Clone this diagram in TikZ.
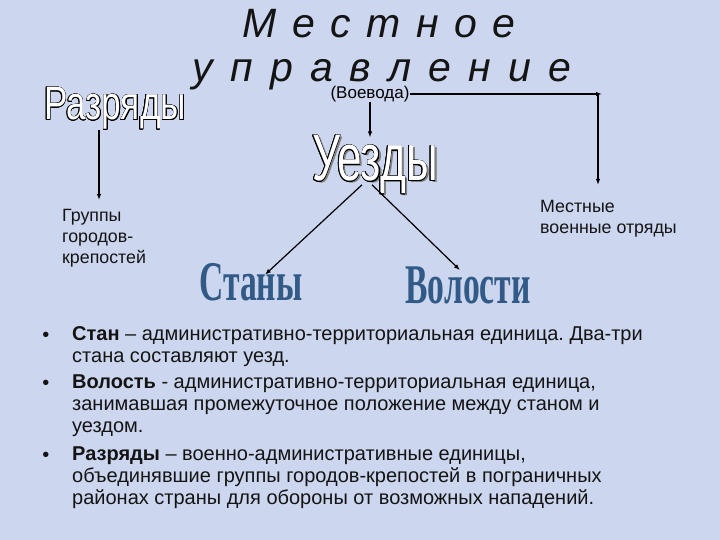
\documentclass[tikz,border=0pt]{standalone}
\usepackage{fontspec}
\setmainfont{Liberation Sans}
\newfontfamily\titlefont{Liberation Sans}[LetterSpace=10]
\newfontfamily\titlewidefont{Liberation Sans}[LetterSpace=14]
\newfontfamily\outlinefont{Liberation Sans}[FakeStretch=0.75]
\newfontfamily\uezdfont{Liberation Sans}[FakeStretch=0.67]
\newfontfamily\artfont{Liberation Serif}[FakeStretch=0.6]
\usepackage{contour}
\contourlength{0.45pt}
\contournumber{16}
\usetikzlibrary{
  arrows.meta,
  positioning
}
\frenchspacing
\definecolor{slidebg}{RGB}{204, 214, 238}
\definecolor{artcolor}{RGB}{50, 90, 134}
\definecolor{shadowcolor}{RGB}{125, 125, 125}
\definecolor{labelcolor}{RGB}{20, 20, 20}
\newcommand{\outlinetext}[1]{\contour{black}{\textcolor{white}{#1}}}
\tikzset{
titletext/.style={
  font=\titlefont\itshape\fontsize{41}{41}\selectfont,
  text=labelcolor,
  inner sep=0pt,
  anchor=base
},
smalltext/.style={
  font=\fontsize{17.8}{21}\selectfont,
  text=labelcolor,
  align=left,
  inner sep=0pt,
  anchor=north west
},
outlineword/.style={
  font=\outlinefont\fontsize{47}{47}\selectfont,
  inner sep=0pt,
  anchor=base
},
artword/.style={
  font=\artfont\bfseries\fontsize{56}{56}\selectfont,
  text=artcolor,
  inner sep=0pt,
  anchor=base
},
itemtext/.style={
  font=\fontsize{20}{22}\selectfont,
  text=labelcolor,
  align=left,
  inner sep=0pt,
  anchor=north west
},
bulletmark/.style={
  font=\fontsize{20}{22}\selectfont,
  text=labelcolor,
  inner sep=0pt,
  anchor=base
},
arrow/.style={
  -{Latex[length=6pt,width=4.5pt]},
  line width=1.2pt,
  draw=black
}
}

\begin{document}
\begin{tikzpicture}[x=1pt,y=-1pt]
  \useasboundingbox (0,0) rectangle (720,540);
  \fill[slidebg] (0,0) rectangle (720,540);

  % title
  \node[titletext] (titletop) at (379,38) {М е с т н о е};
  \node[titletext, font=\titlewidefont\itshape\fontsize{41}{41}\selectfont]
    (titlebottom) at (382,82) {у п р а в л е н и е};
  \node[font=\fontsize{17}{17}\selectfont, inner sep=0pt] (voevoda) at (370,94) {(Воевода)};

  % outlined words
  \node[outlineword] (razryady) at (115,120) {\outlinetext{Разряды}};
  \node[outlineword, font=\uezdfont\fontsize{66}{66}\selectfont, text=shadowcolor]
    (uezdyshadow) at (377.5,183) {Уезды};
  \node[outlineword, font=\uezdfont\fontsize{66}{66}\selectfont]
    (uezdy) at (375,181) {\outlinetext{Уезды}};

  \node[artword] (stany) at (251,300) {Станы};
  \node[artword] (volosti) at (468,303) {Волости};

  \node[smalltext] (gruppy) at (62,209) {Группы\\городов-\\крепостей};
  \node[smalltext] (mestnye) at (540,200) {Местные\\военные отряды};

  % connectors
  \coordinate (corner) at (600,94);
  \draw[arrow] ([xshift=-16pt]razryady.south) -- ([xshift=-16pt,yshift=9pt]razryady.south |- gruppy.north);
  \draw[arrow] (voevoda.south) -- ([yshift=-2pt]voevoda.south |- uezdy.north);
  \draw[arrow] (voevoda.east) -- ([xshift=2pt]corner);
  \draw[arrow] ([xshift=-2pt]corner) -- ([xshift=-2pt,yshift=15pt]corner |- mestnye.north);
  \draw[arrow] ([xshift=-13pt,yshift=10pt]uezdy.south) -- ([xshift=14pt,yshift=-12pt]stany.north);
  \draw[arrow] ([xshift=-3pt,yshift=10pt]uezdy.south) -- ([xshift=-8pt,yshift=-4pt]volosti.north);

  % bullet list
  \node[itemtext] (item1) at (72,326.5) {\textbf{Стан} – административно-территориальная единица. Два-три\\стана составляют уезд.};
  \node[itemtext] (item2) at (72,374.5) {\textbf{Волость} - административно-территориальная единица,\\занимавшая промежуточное положение между станом и\\уездом.};
  \node[itemtext] (item3) at (72,446.5) {\textbf{Разряды} – военно-административные единицы,\\объединявшие группы городов-крепостей в пограничных\\районах страны для обороны от возможных нападений.};
  \node[bulletmark] (bullet1) at (46,341) {•};
  \node[bulletmark] (bullet2) at (46,389) {•};
  \node[bulletmark] (bullet3) at (46,461) {•};
\end{tikzpicture}
\end{document}
